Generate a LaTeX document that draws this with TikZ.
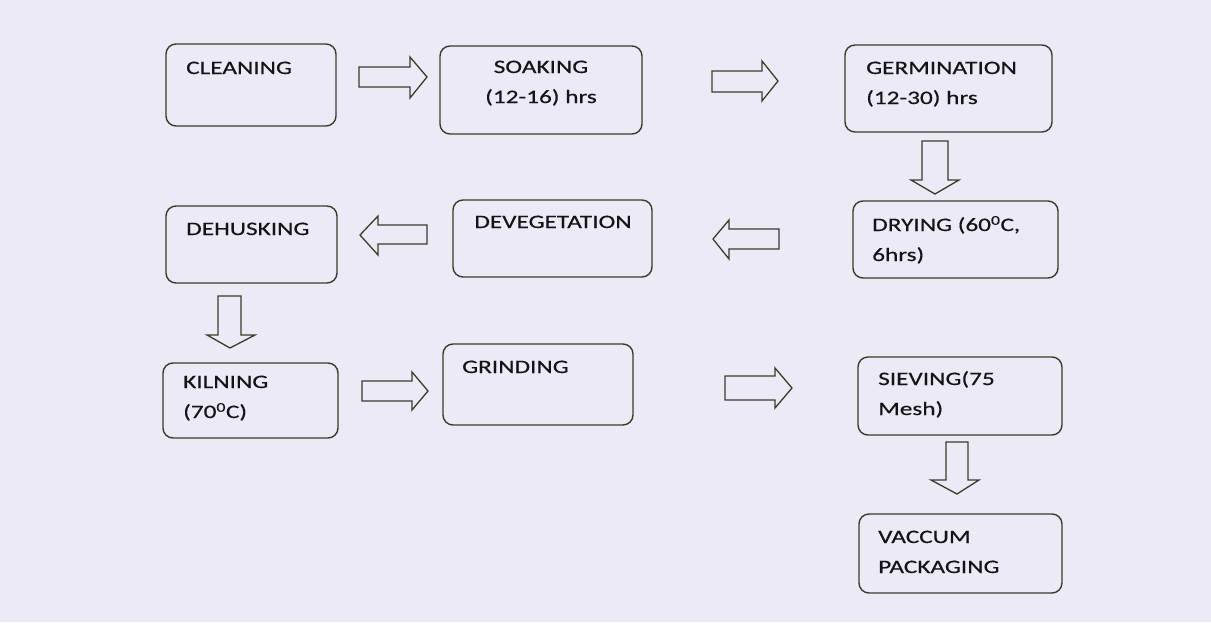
\documentclass[tikz,border=0pt]{standalone}
\usepackage{fontspec}
\setmainfont{Carlito}[FakeStretch=1.33,FakeBold=0.4]
\definecolor{paper}{RGB}{236,234,246}
\definecolor{boxline}{RGB}{52,64,38}
\definecolor{ink}{RGB}{20,20,20}
\tikzset{
  stepbox/.style={draw=boxline, line width=1.4pt, rounded corners=10pt, inner sep=0pt},
  steptext/.style={text=ink, inner sep=0pt, font=\fontsize{19}{30}\selectfont},
  blockarrow/.style={draw=boxline, line width=1.3pt, line join=miter},
}
\begin{document}
\begin{tikzpicture}[x=1pt,y=-1pt]
\fill[paper] (0,0) rectangle (1211,622);
\useasboundingbox (0,0) rectangle (1211,622);

% boxes
\node[stepbox, minimum width=170pt, minimum height=82pt] (clean) at (251,85) {};
\node[stepbox, minimum width=202pt, minimum height=88pt] (soak) at (541,90) {};
\node[stepbox, minimum width=207pt, minimum height=87pt] (germ) at (948.5,88.5) {};
\node[stepbox, minimum width=205pt, minimum height=77pt] (dry) at (955.5,239.5) {};
\node[stepbox, minimum width=199pt, minimum height=77pt] (deveg) at (552.5,238.5) {};
\node[stepbox, minimum width=171pt, minimum height=77pt] (dehusk) at (251.5,244.5) {};
\node[stepbox, minimum width=175pt, minimum height=75pt] (kiln) at (250.5,400.5) {};
\node[stepbox, minimum width=190pt, minimum height=81pt] (grind) at (538,384.5) {};
\node[stepbox, minimum width=204pt, minimum height=78pt] (sieve) at (960,396) {};
\node[stepbox, minimum width=203pt, minimum height=79pt] (vac) at (960.5,553.5) {};

% texts (anchor base = baseline of the last line)
\node[steptext, anchor=base west] (clean-t) at (186,74) {CLEANING};
\node[steptext, anchor=base, align=center] (soak-t) at (541,103) {SOAKING\\(12-16) hrs};
\node[steptext, anchor=base west, align=left] (germ-t) at (866,104) {GERMINATION\\(12-30) hrs};
\node[steptext, anchor=base west, align=left] (dry-t) at (872,261) {DRYING (60\textsuperscript{0}C,\\6hrs)};
\node[steptext, anchor=base] (deveg-t) at (553,228) {DEVEGETATION};
\node[steptext, anchor=base west] (dehusk-t) at (186,235) {DEHUSKING};
\node[steptext, anchor=base west, align=left] (kiln-t) at (183,418) {KILNING\\(70\textsuperscript{0}C)};
\node[steptext, anchor=base west] (grind-t) at (462,373) {GRINDING};
\node[steptext, anchor=base west, align=left] (sieve-t) at (878,415) {SIEVING(75\\Mesh)};
\node[steptext, anchor=base west, align=left] (vac-t) at (878,573) {VACCUM\\PACKAGING};

% block arrows
\draw[blockarrow] (359,67) -- (410,67) -- (410,57) -- (427,77) -- (410,98) -- (410,87) -- (359,87) -- cycle;
\draw[blockarrow] (712,71) -- (762,71) -- (762,61) -- (778,81) -- (762,101) -- (762,92) -- (712,92) -- cycle;
\draw[blockarrow] (922,141) -- (948,141) -- (948,180) -- (959,180) -- (935,194) -- (911,180) -- (922,180) -- cycle;
\draw[blockarrow] (779,229) -- (729,229) -- (729,220) -- (713,239) -- (729,259) -- (729,249) -- (779,249) -- cycle;
\draw[blockarrow] (427,225) -- (378,225) -- (378,216) -- (360,235) -- (378,255) -- (378,244) -- (427,244) -- cycle;
\draw[blockarrow] (218,296) -- (241,296) -- (241,335) -- (255,335) -- (230,348) -- (207,335) -- (218,335) -- cycle;
\draw[blockarrow] (362,381) -- (412,381) -- (412,372) -- (428,391) -- (412,410) -- (412,401) -- (362,401) -- cycle;
\draw[blockarrow] (725,376) -- (775,376) -- (775,368) -- (792,388) -- (775,408) -- (775,400) -- (725,400) -- cycle;
\draw[blockarrow] (946,442) -- (968,442) -- (968,480) -- (979,480) -- (957,494) -- (931,480) -- (946,480) -- cycle;
\end{tikzpicture}
\end{document}
